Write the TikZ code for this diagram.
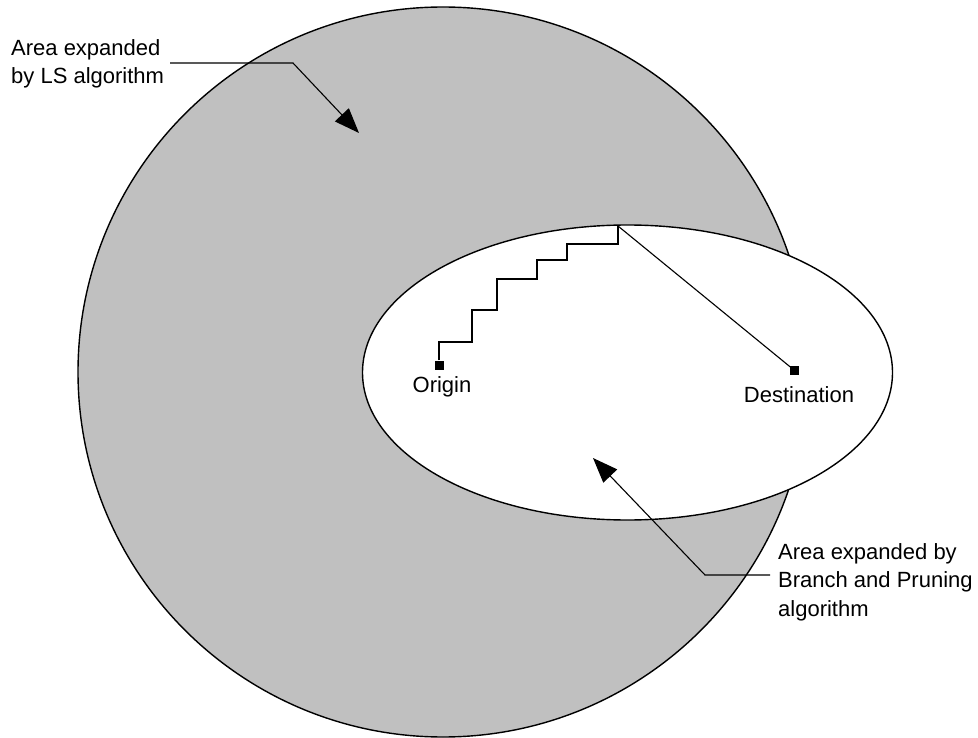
\documentclass[tikz,border=0pt]{standalone}
\usepackage{fontspec}
\setmainfont{Liberation Sans}
\usetikzlibrary{arrows.meta}

\definecolor{areagray}{HTML}{C0C0C0}

\tikzset{
  outline/.style={draw=black, line width=1.4pt},
  leader/.style={draw=black, line width=1.1pt},
  pointer/.style={leader, -{Triangle[length=25pt, width=19pt]}},
  endpoint/.style={fill=black, draw=none, minimum size=9pt, inner sep=0pt},
  caption/.style={font=\fontsize{22}{28.5}\selectfont, inner sep=0pt, align=left},
}

\begin{document}
\begin{tikzpicture}[x=1pt, y=-1pt]
  \useasboundingbox (0,0) rectangle (978,738);
  \fill[white] (0,0) rectangle (978,738);

  % region explored by the LS algorithm
  \draw[outline, fill=areagray] (443,372) circle[radius=365];
  % region explored by Branch and Pruning
  \draw[outline, fill=white] (627.5,372.5) ellipse[x radius=265, y radius=147.5];

  % end points of the route
  \node[endpoint] (origin) at (439,365) {};
  \node[endpoint] (dest) at (794,370) {};
  \node[caption] (originlabel) at (442,387) {Origin};
  \node[caption] (destlabel) at (799,395) {Destination};

  % stepwise path from the origin up to the boundary, then straight to the destination
  \coordinate (peak) at (618,226);
  \draw[leader] (origin.north) -- (439,342) -- (472,342) -- (472,310) -- (497,310)
    -- (497,279) -- (537,279) -- (537,260) -- (567,260) -- (567,244)
    -- (618,244) -- (peak);
  \draw[leader] (peak) -- (dest.center);

  % annotations
  \node[caption, anchor=west] (lslabel) at (11,64) {Area expanded\\by LS algorithm};
  \coordinate (lsstart) at (170,63);
  \coordinate (lsbend) at (293,63);
  \coordinate (lstip) at (359,133);
  \draw[pointer] (lsstart) -- (lsbend) -- (lstip);

  \node[caption, anchor=west] (bplabel) at (778,582) {Area expanded by\\Branch and Pruning\\algorithm};
  \coordinate (bpstart) at (770,575);
  \coordinate (bpbend) at (705,575);
  \coordinate (bptip) at (593,458);
  \draw[pointer] (bpstart) -- (bpbend) -- (bptip);
\end{tikzpicture}
\end{document}
